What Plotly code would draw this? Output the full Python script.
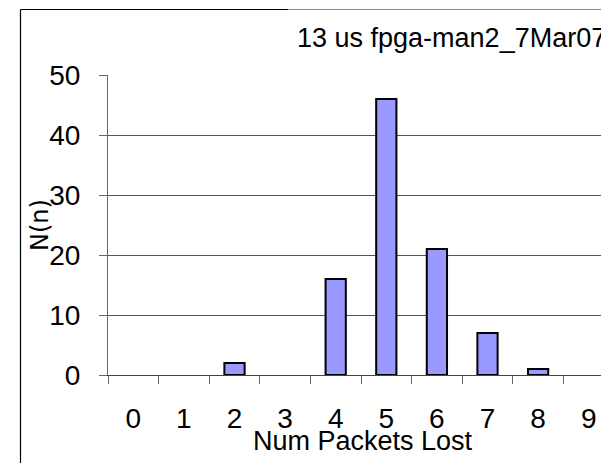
import plotly.graph_objects as go

categories = ["0", "1", "2", "3", "4", "5", "6", "7", "8", "9"]
counts = [0, 0, 2, 0, 16, 46, 21, 7, 1, 0]
y_ticks = [0, 10, 20, 30, 40, 50]
title_text = "13 us fpga-man2_7Mar07"
x_title = "Num Packets Lost"
y_title = "N(n)"

FONT = "Liberation Sans, Arial, sans-serif"
WIDE = "DejaVu Sans, Liberation Sans, sans-serif"
W, H = 601, 463
L, T, B = 108, 75, 88
PW = W - L
PH = H - T - B

fig = go.Figure()
fig.add_trace(go.Bar(
    x=categories, y=counts, width=0.4,
    marker=dict(color="#9999FF",
                line=dict(color="#000000",
                          width=[2 if c > 0 else 0 for c in counts])),
))

def px_x(p):
    return (p - L) / PW

def px_y(p):
    return (H - B - p) / PH

fig.update_layout(
    width=W, height=H,
    margin=dict(l=L, r=0, t=T, b=B, pad=0),
    paper_bgcolor="white", plot_bgcolor="white",
    showlegend=False,
    font=dict(family=FONT, size=28, color="black"),
    xaxis=dict(
        type="category", range=[-0.5, -0.5 + PW / 50.6],
        tickson="boundaries", ticks="outside", ticklen=8, tickcolor="#666666",
        tickwidth=1, showline=True, linecolor="#444444", linewidth=1,
        showgrid=False, zeroline=False,
        tickfont=dict(family=FONT, size=28, color="black"),
        ticklabelstandoff=18,
    ),
    yaxis=dict(
        range=[0, 50], tickvals=y_ticks, ticks="outside", ticklen=8,
        tickcolor="#666666", tickwidth=1,
        showline=True, linecolor="#666666", linewidth=1,
        showgrid=True, gridcolor="#555555", gridwidth=1, zeroline=False,
        tickfont=dict(family=FONT, size=28, color="black"),
        ticklabelstandoff=13,
    ),
)

# chart border (clipped at right and bottom as in the reference)
fig.add_shape(type="line", xref="paper", yref="paper",
              x0=px_x(20.5), x1=px_x(20.5), y0=px_y(9.5), y1=px_y(480),
              line=dict(color="black", width=1.2))
fig.add_shape(type="line", xref="paper", yref="paper",
              x0=px_x(20.5), x1=px_x(288), y0=px_y(9.5), y1=px_y(9.5),
              line=dict(color="black", width=1.2))
fig.add_shape(type="line", xref="paper", yref="paper",
              x0=px_x(288), x1=px_x(620), y0=px_y(9.5), y1=px_y(9.5),
              line=dict(color="#888888", width=1.2))

fig.add_annotation(text=title_text, xref="paper", yref="paper",
                   x=px_x(295), y=px_y(38), xanchor="left", yanchor="middle",
                   showarrow=False, font=dict(family=FONT, size=27, color="black"))
fig.add_annotation(text=x_title, xref="paper", yref="paper",
                   x=px_x(362.5), y=px_y(441), xanchor="center", yanchor="middle",
                   showarrow=False, font=dict(family=FONT, size=27, color="black"))
fig.add_annotation(text=y_title, xref="paper", yref="paper",
                   x=px_x(40), y=px_y(225), xanchor="center", yanchor="middle",
                   textangle=-90, showarrow=False,
                   font=dict(family=WIDE, size=24, color="black"))

fig.write_html("out.html", config={"displayModeBar": False},
               post_script="document.body.style.margin='0';document.body.style.overflow='hidden';")
